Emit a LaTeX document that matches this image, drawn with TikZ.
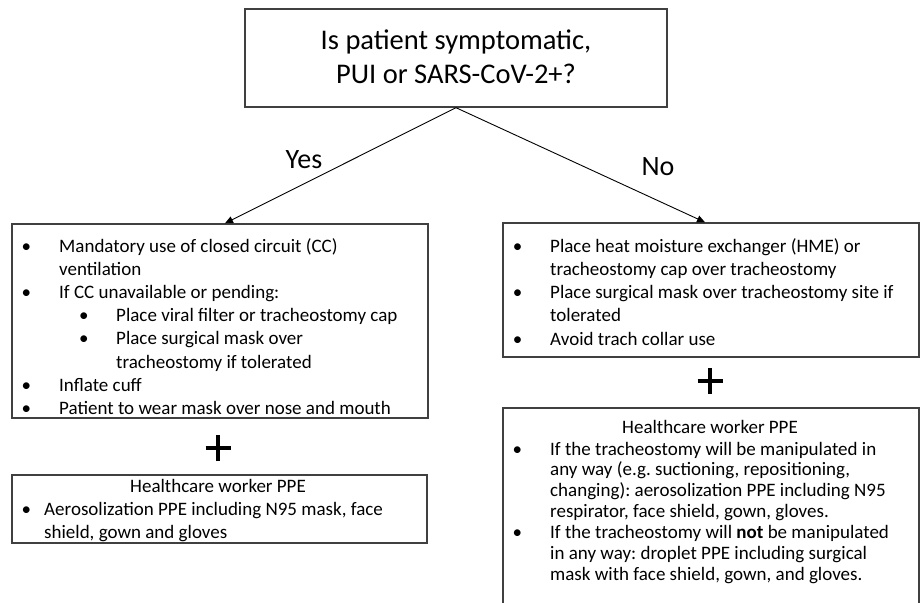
\documentclass[tikz,border=0pt]{standalone}
\usepackage{fontspec}
\setmainfont{Carlito}
\usetikzlibrary{arrows.meta}
\newcommand\bodyfont[1]{\fontsize{19}{#1}\selectfont}
\newcommand\bul[1]{\makebox[#1][l]{\textbullet}}
\AtBeginDocument{\frenchspacing}
\begin{document}
\begin{tikzpicture}[x=1pt,y=-1pt,
  box/.style={draw=black!75,line width=1.4pt,inner sep=0pt},
  txt/.style={inner sep=0pt,anchor=base west,execute at begin node=\frenchspacing},
  ctxt/.style={inner sep=0pt,anchor=base},
  conn/.style={-{Triangle[length=8pt,width=7pt]},line width=0.9pt,black},
  plusmark/.style={line width=4pt,black}]
\useasboundingbox[fill=white] (0,0) rectangle (920,602);
\clip (0,0) rectangle (920,602);

% boxes
\node[box,minimum width=422pt,minimum height=98pt] (q) at (456,58) {};
\node[box,minimum width=416pt,minimum height=194pt] (A) at (220,321) {};
\node[box,minimum width=416pt,minimum height=134pt] (B) at (711,290) {};
\node[box,minimum width=415pt,minimum height=68pt] (C) at (219.5,509) {};
\node[box,minimum width=416pt,minimum height=260pt] (D) at (711,538) {};

% question
\node[ctxt] (qtext) at (456,49.5) {\fontsize{28.5}{34}\selectfont
  \begin{tabular}[t]{@{}c@{}}Is patient symptomatic,\\ PUI or SARS-CoV-2+?\end{tabular}};

% connectors
\draw[conn] (q.south) -- ([xshift=5pt]A.north);
\draw[conn] (q.south) -- ([xshift=-6pt]B.north);
\node[ctxt,font=\fontsize{28}{32}\selectfont] (yes) at (304,168) {Yes};
\node[ctxt,font=\fontsize{28}{32}\selectfont] (no) at (658,175) {No};

% left box 1
\node[txt] (Atext) at (21.5,252) {\bodyfont{23.2}%
\begin{tabular}[t]{@{}l@{}}
\bul{37.5pt}Mandatory use of closed circuit (CC)\\
\hspace*{37.5pt}ventilation\\
\bul{37.5pt}If CC unavailable or pending:\\
\hspace*{57.5pt}\bul{37pt}Place viral filter or tracheostomy cap\\
\hspace*{57.5pt}\bul{37pt}Place surgical mask over\\
\hspace*{94.5pt}tracheostomy if tolerated\\
\bul{37.5pt}Inflate cuff\\
\bul{37.5pt}Patient to wear mask over nose and mouth
\end{tabular}};

% right box 1
\node[txt] (Btext) at (512.7,252) {\bodyfont{23.3}%
\begin{tabular}[t]{@{}l@{}}
\bul{37.3pt}Place heat moisture exchanger (HME) or\\
\hspace*{37.3pt}tracheostomy cap over tracheostomy\\
\bul{37.3pt}Place surgical mask over tracheostomy site if\\
\hspace*{37.3pt}tolerated\\
\bul{37.3pt}Avoid trach collar use
\end{tabular}};

% plus signs
\coordinate (plusL) at (218,448);
\coordinate (plusR) at (710,381);
\draw[plusmark] ([xshift=-12.5pt]plusL) -- ([xshift=12.5pt]plusL);
\draw[plusmark] ([yshift=-13pt]plusL) -- ([yshift=13pt]plusL);
\draw[plusmark] ([xshift=-12.5pt]plusR) -- ([xshift=12.5pt]plusR);
\draw[plusmark] ([yshift=-13pt]plusR) -- ([yshift=13pt]plusR);

% left box 2
\node[ctxt,font=\bodyfont{23}] (Chead) at (218,492) {Healthcare worker PPE};
\node[txt] (Ctext) at (21.5,515) {\bodyfont{23}%
\begin{tabular}[t]{@{}l@{}}
\bul{22.5pt}Aerosolization PPE including N95 mask, face\\
\hspace*{22.5pt}shield, gown and gloves
\end{tabular}};

% right box 2
\node[ctxt,font=\bodyfont{23}] (Dhead) at (710,433) {Healthcare worker PPE};
\node[txt] (Dtext) at (512.5,455) {\bodyfont{20.9}%
\begin{tabular}[t]{@{}l@{}}
\bul{37.5pt}If the tracheostomy will be manipulated in\\
\hspace*{37.5pt}any way (e.g. suctioning, repositioning,\\
\hspace*{37.5pt}changing): aerosolization PPE including N95\\
\hspace*{37.5pt}respirator, face shield, gown, gloves.\\
\bul{37.5pt}If the tracheostomy will \textbf{not} be manipulated\\
\hspace*{37.5pt}in any way: droplet PPE including surgical\\
\hspace*{37.5pt}mask with face shield, gown, and gloves.
\end{tabular}};
\end{tikzpicture}
\end{document}
